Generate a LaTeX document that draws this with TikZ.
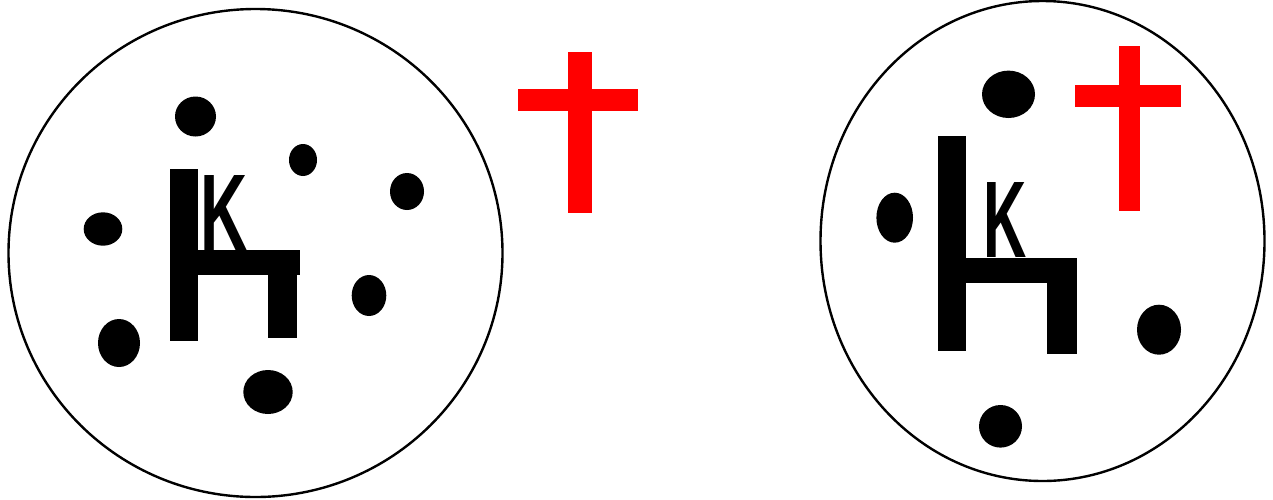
\documentclass[tikz,border=0pt]{standalone}
\usepackage{fontspec}
\usepackage{graphicx}
\newfontfamily\kfont{Liberation Sans}
\begin{document}
\begin{tikzpicture}[x=1pt,y=-1pt,
  ring/.style={draw=black,line width=2.4pt},
  spot/.style={fill=black},
  bar/.style={fill=black},
  crossbar/.style={fill=red},
  letter/.style={font=\kfont\bfseries\fontsize{109}{109}\selectfont,inner sep=0pt,anchor=base west}]
\useasboundingbox (0,0) rectangle (1273,499);
% left circle
\draw[ring] (255.5,253) ellipse [x radius=247pt,y radius=244pt];
\fill[spot] (195.5,116.5) ellipse [x radius=20.5pt,y radius=20pt];
\fill[spot] (303,160) ellipse [x radius=14pt,y radius=16pt];
\fill[spot] (407,191.5) ellipse [x radius=17pt,y radius=18.5pt];
\fill[spot] (103,229) ellipse [x radius=19.3pt,y radius=16.7pt];
\fill[spot] (369,295.5) ellipse [x radius=17.3pt,y radius=20.5pt];
\fill[spot] (119,343) ellipse [x radius=21pt,y radius=24pt];
\fill[spot] (268,392) ellipse [x radius=24.7pt,y radius=22pt];
\fill[bar] (170,169) rectangle (197.7,340.7);
\fill[bar] (170,250) rectangle (300,275);
\fill[bar] (268,250) rectangle (296.7,337.7);
\node[letter] (kleft) at (200,250) {\scalebox{0.6}[1]{K}};
\fill[crossbar] (568,52) rectangle (592,212.7);
\fill[crossbar] (518,89) rectangle (638,110.7);
% right circle
\draw[ring] (1042.5,241) ellipse [x radius=222pt,y radius=240pt];
\fill[spot] (1008.5,94.3) ellipse [x radius=26.5pt,y radius=23.7pt];
\fill[spot] (894.7,217.7) ellipse [x radius=18.3pt,y radius=25pt];
\fill[spot] (1159,329.7) ellipse [x radius=22pt,y radius=25pt];
\fill[spot] (1000.5,426.3) ellipse [x radius=21.5pt,y radius=21.3pt];
\fill[bar] (938,135.7) rectangle (965.7,350.7);
\fill[bar] (938,257.7) rectangle (1077,282.7);
\fill[bar] (1047,257.7) rectangle (1077,354.3);
\node[letter] (kright) at (983,257.7) {\scalebox{0.55}[1]{K}};
\fill[crossbar] (1119,45.7) rectangle (1140,211);
\fill[crossbar] (1075,85) rectangle (1180.7,106.7);
\end{tikzpicture}
\end{document}
